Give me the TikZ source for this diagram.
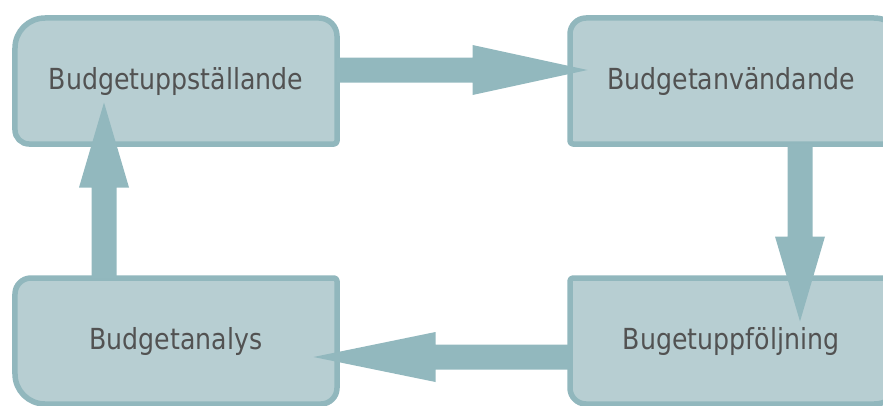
\documentclass[tikz,border=0pt]{standalone}
\usepackage{fontspec}
\usetikzlibrary{calc}
\newfontfamily\lblfont[FakeStretch=0.87]{DejaVu Sans}

\definecolor{boxfill}{RGB}{183,206,210}
\definecolor{boxedge}{RGB}{145,183,189}
\definecolor{arrowfill}{RGB}{146,184,190}
\definecolor{labeltext}{RGB}{82,82,82}

\pgfdeclarelayer{background}
\pgfsetlayers{background,main}

\tikzset{
  stagebox/.style={rectangle, draw=none, inner sep=0pt, outer sep=0pt,
    minimum width=322bp, minimum height=126bp,
    font=\lblfont\fontsize{29bp}{34bp}\selectfont, text=labeltext},
  widebox/.style={stagebox, minimum width=334bp},
  stageoutline/.style={draw=boxedge, fill=boxfill, line width=5.5bp, line join=round},
  flowarrow/.style={fill=arrowfill, draw=none}
}

% outline of a box with its own radius at each corner:
% #1 node, #2 top left, #3 top right, #4 bottom right, #5 bottom left
\newcommand\stageframe[5]{%
  \begin{pgfonlayer}{background}
  \path[stageoutline]
    ($(#1.north west)+(0,-#2)$) arc[start angle=180, end angle=90, radius=#2]
    -- ($(#1.north east)+(-#3,0)$) arc[start angle=90, end angle=0, radius=#3]
    -- ($(#1.south east)+(0,#4)$) arc[start angle=0, end angle=-90, radius=#4]
    -- ($(#1.south west)+(#5,0)$) arc[start angle=270, end angle=180, radius=#5]
    -- cycle;
  \end{pgfonlayer}}

% wide block arrow from #1 to #2 with a head of length #3
\newcommand\flowblock[3]{%
  \coordinate (hb) at ($(#2)!#3!(#1)$);
  \fill[flowarrow]
    ($(#1)!12.5bp!90:(#2)$) -- ($(hb)!12.5bp!90:(#2)$) -- ($(hb)!25bp!90:(#2)$)
    -- (#2)
    -- ($(hb)!25bp!-90:(#2)$) -- ($(hb)!12.5bp!-90:(#2)$) -- ($(#1)!12.5bp!-90:(#2)$)
    -- cycle;}

\begin{document}
\begin{tikzpicture}[x=1bp, y=1bp]
  \useasboundingbox (0,0) rectangle (883,405);

  \node[stagebox] (tl) at (176,324) {Budgetuppställande};
  \node[widebox]  (tr) at (737,324) {\hspace*{-12bp}Budgetanvändande};
  \node[stagebox] (bl) at (176,64)  {Budgetanalys};
  \node[widebox]  (br) at (737,64)  {\hspace*{-12bp}Bugetuppföljning};

  \stageframe{tl}{30bp}{18bp}{3bp}{14bp}
  \stageframe{tr}{16bp}{30bp}{14bp}{3bp}
  \stageframe{bl}{16bp}{3bp}{16bp}{30bp}
  \stageframe{br}{3bp}{16bp}{30bp}{16bp}

  % arrow end points, placed from the boxes
  \coordinate (a1s) at ($(tl.east)+(0,11)$);
  \coordinate (a1e) at ($(tr.west)+(17.5,11)$);
  \coordinate (a2s) at ($(tr.south)+(63,0)$);
  \coordinate (a2e) at ($(br.north)+(63,-43.5)$);
  \coordinate (a3s) at ($(br.west)+(0,-16)$);
  \coordinate (a3e) at ($(bl.east)+(-23.5,-16)$);
  \coordinate (a4s) at ($(bl.north)+(-72,0)$);
  \coordinate (a4e) at ($(tl.south)+(-72,41.5)$);

  \flowblock{a1s}{a1e}{115bp}
  \flowblock{a2s}{a2e}{85bp}
  \flowblock{a3s}{a3e}{122bp}
  \flowblock{a4s}{a4e}{85bp}
\end{tikzpicture}
\end{document}
